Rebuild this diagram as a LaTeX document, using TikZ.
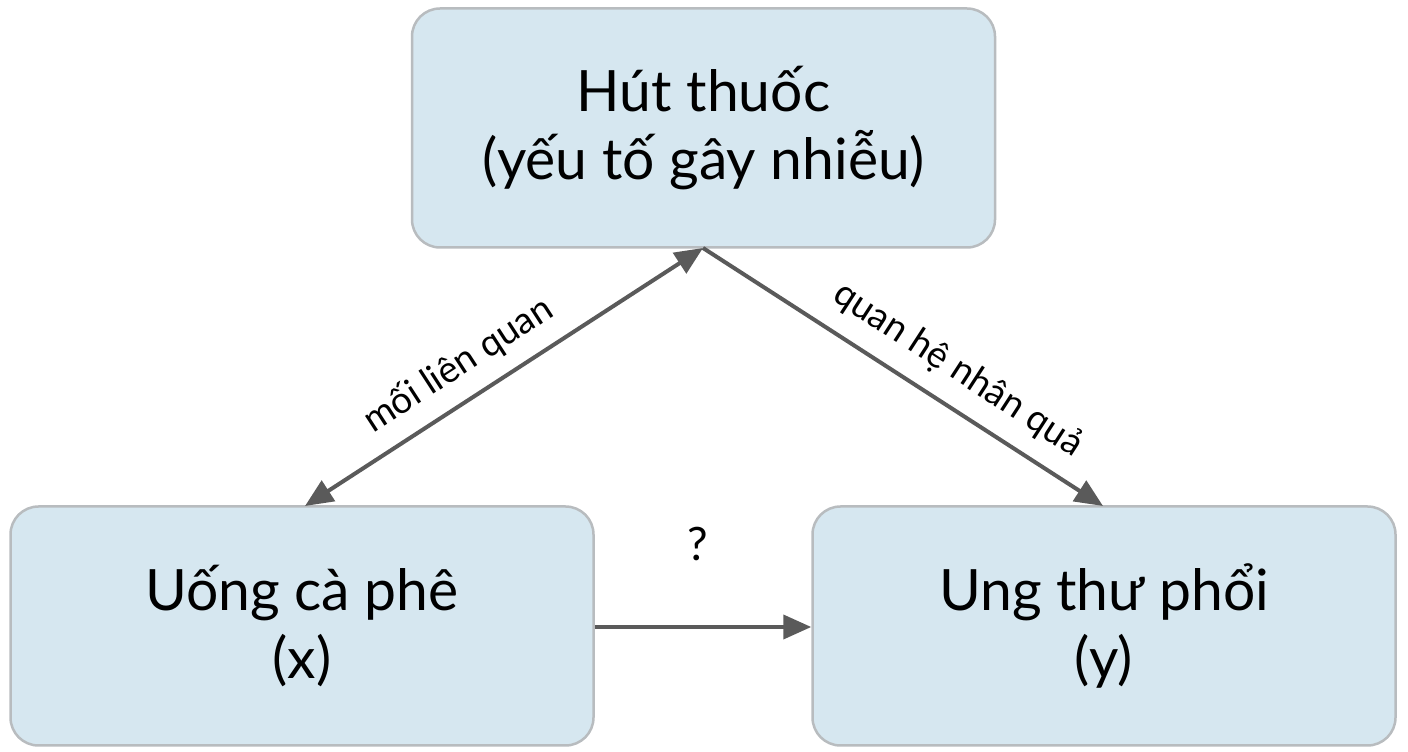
\documentclass[tikz,border=0pt]{standalone}
\usepackage{fontspec}
\setmainfont{Lato}
\usetikzlibrary{arrows.meta}
\definecolor{boxfill}{HTML}{D6E7F0}
\definecolor{boxline}{HTML}{B8BCBF}
\definecolor{arr}{HTML}{5A5A5A}
\begin{document}
\begin{tikzpicture}[x=1pt,y=1pt,
  box/.style={draw=boxline,line width=2.5pt,fill=boxfill,rounded corners=28pt,minimum width=583pt,minimum height=239pt,align=center,font=\fontsize{57}{68}\selectfont,inner sep=0pt},
  con/.style={draw=arr,line width=4pt,-{Triangle[length=28pt,width=24pt]}},
  lab/.style={font=\fontsize{37}{44}\selectfont}]
\useasboundingbox (0,0) rectangle (1408,752);
\node[box] (top) at (703.5,624) {Hút thuốc\\(yếu tố gây nhiễu)};
\node[box] (left) at (302,126) {Uống cà phê\\(x)};
\node[box] (right) at (1104,126) {Ung thư phổi\\(y)};
\coordinate (apex) at (703,504);
\coordinate (lt) at (305,246);
\coordinate (rt) at (1103,246);
\draw[con,{Triangle[length=28pt,width=24pt]}-{Triangle[length=28pt,width=24pt]}] (lt) -- (apex);
\draw[con] (apex) -- (rt);
\draw[con] (left.east |- 0,125) -- (right.west |- 0,125);
\node[lab,rotate=33] (l1) at (458,387) {mối liên quan};
\node[lab,rotate=-33] (l2) at (958,382) {quan hệ nhân quả};
\node[font=\fontsize{46}{54}\selectfont] (q) at (698,208) {?};
\end{tikzpicture}
\end{document}
